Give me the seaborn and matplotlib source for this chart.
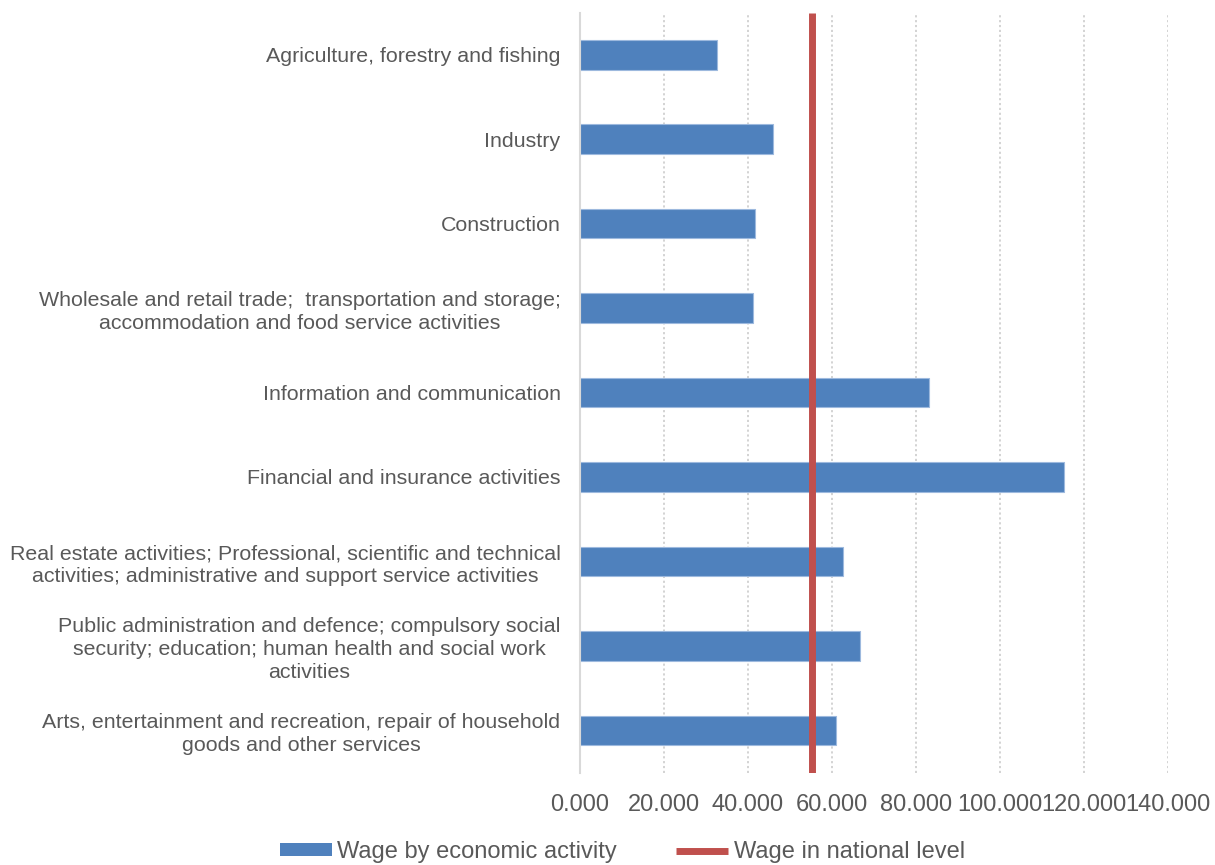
import matplotlib
matplotlib.use("Agg")
import matplotlib.pyplot as plt
import seaborn as sns
import pandas as pd
from matplotlib.patches import Patch
from matplotlib.lines import Line2D
from matplotlib.ticker import FuncFormatter

categories = [
    "Agriculture, forestry and fishing",
    "Industry",
    "Construction",
    "Wholesale and retail trade;  transportation and storage;\naccommodation and food service activities",
    "Information and communication",
    "Financial and insurance activities",
    "Real estate activities; Professional, scientific and technical\nactivities; administrative and support service activities",
    "Public administration and defence; compulsory social\nsecurity; education; human health and social work\nactivities",
    "Arts, entertainment and recreation, repair of household\ngoods and other services",
]
wages = [32.5, 46.0, 41.7, 41.2, 83.0, 115.3, 62.6, 66.7, 60.9]
national_wage = 55.3
x_ticks = [0, 20, 40, 60, 80, 100, 120, 140]

sns.set_theme(style="white")
plt.rcParams['font.family'] = ['Liberation Sans', 'DejaVu Sans']

BLUE = "#4F81BD"
RED = "#C0504D"
GRAY = "#595959"

df = pd.DataFrame({"category": categories, "wage": wages})

fig = plt.figure(figsize=(12.15, 8.65), dpi=100)
ax = fig.add_axes([0.4774, 0.1069, 0.4840, 0.8786])

sns.barplot(data=df, y="category", x="wage", orient="h", color=BLUE,
            width=0.35, saturation=1, ax=ax, edgecolor="#9DB9DE", linewidth=0.8)
ax.axvline(national_wage, color=RED, linewidth=5, zorder=5, solid_capstyle="butt")

ax.set_xlim(0, 140)
ax.set_ylim(len(categories) - 0.5, -0.5)
ax.set_xticks(x_ticks)
ax.xaxis.set_major_formatter(FuncFormatter(lambda v, p: f"{v:.3f}"))
ax.grid(axis="x", color="#D0D0D0", linestyle=(0, (1.2, 1.5)), linewidth=1.3)
ax.set_axisbelow(True)
ax.set_xlabel("")
ax.set_ylabel("")

for s in ["top", "right", "bottom"]:
    ax.spines[s].set_visible(False)
ax.spines["left"].set_color("#D9D9D9")
ax.spines["left"].set_linewidth(1.5)

ax.tick_params(axis="x", length=0, pad=15.5, labelsize=17, labelcolor=GRAY)
ax.tick_params(axis="y", length=0, pad=14, labelsize=15.4, labelcolor=GRAY)
for lab in ax.get_yticklabels():
    lab.set_multialignment("center")
    lab.set_linespacing(1.25)

handles = [
    Patch(facecolor=BLUE, edgecolor="none", label="Wage by economic activity"),
    Line2D([0], [0], color=RED, linewidth=5, solid_capstyle="butt",
           label="Wage in national level"),
]
leg = fig.legend(handles=handles, loc="center", bbox_to_anchor=(0.5123, 0.015),
                 ncol=2, frameon=False, fontsize=17, handlelength=2.2,
                 handleheight=0.45, handletextpad=0.25, columnspacing=2.5)
for t in leg.get_texts():
    t.set_color(GRAY)

fig.savefig("out.png", dpi=100)
